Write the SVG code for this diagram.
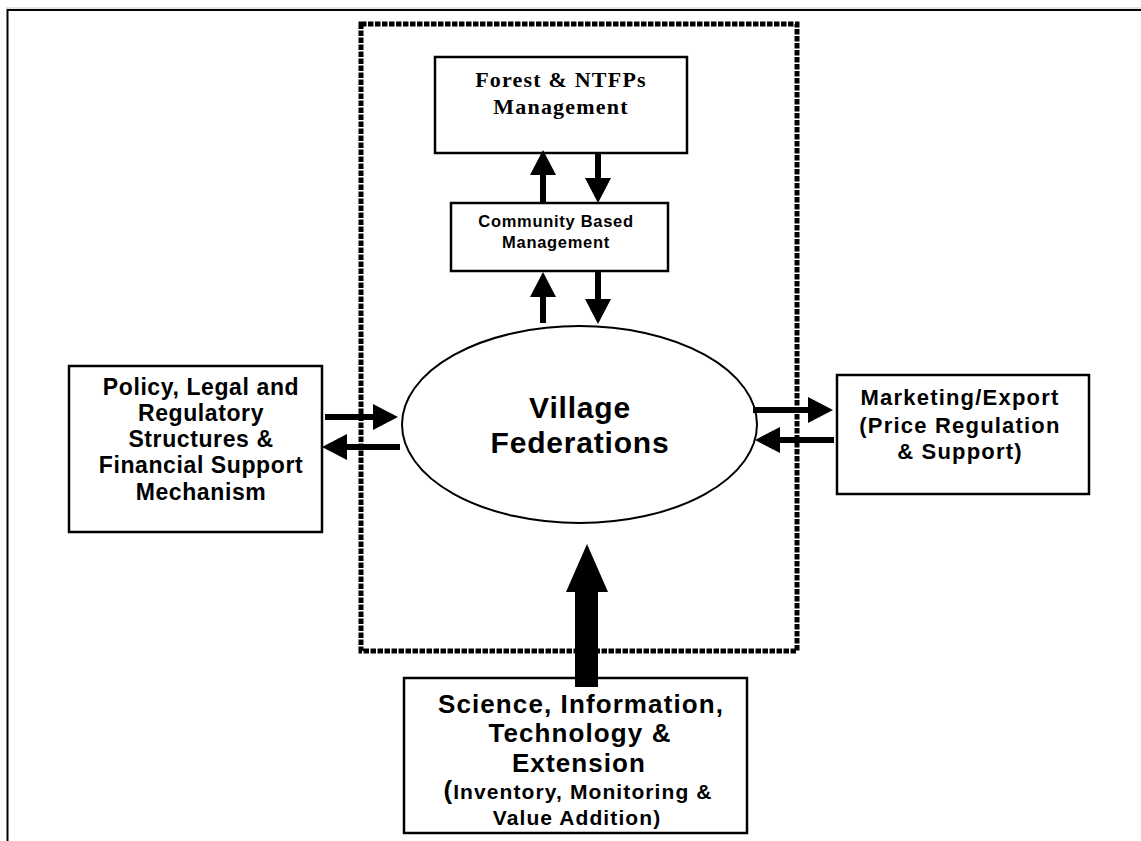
<svg xmlns="http://www.w3.org/2000/svg" width="1141" height="841" viewBox="0 0 1141 841">
  <style>
    .box { fill: #fff; stroke: #000; stroke-width: 2.5; }
    .oval { fill: #fff; stroke: #000; stroke-width: 2; }
    .sans { font-family: "Liberation Sans", Arial, sans-serif; font-weight: bold; fill: #000; text-anchor: middle; }
    .serif { font-family: "Liberation Serif", "Times New Roman", serif; font-weight: bold; fill: #000; text-anchor: middle; }
    .arrow { stroke: #000; stroke-width: 6; fill: none; marker-end: url(#head); }
    .frame { stroke: #000; stroke-width: 2; fill: none; }
  </style>
  <defs>
    <marker id="head" markerUnits="userSpaceOnUse" markerWidth="26" markerHeight="26" refX="15" refY="13" orient="auto">
      <path d="M0,0 L25,13 L0,26 Z" fill="#000"/>
    </marker>
  </defs>

  <rect width="1141" height="841" fill="#fff"/>

  <!-- page frame: top and left rules -->
  <line x1="6" y1="8" x2="1141" y2="8" stroke="#c8c8c8" stroke-width="1"/>
  <path class="frame" d="M7.5,841 V10 H1141"/>

  <!-- dotted boundary around the village system -->
  <rect id="boundary" x="361" y="24" width="436" height="627" fill="none" stroke="#000" stroke-width="5" stroke-dasharray="5.5 1.5"/>

  <g id="forest">
    <rect class="box" x="435" y="57" width="252" height="96"/>
    <text class="serif" font-size="22" letter-spacing="1.2" x="561" y="87">Forest &amp; NTFPs</text>
    <text class="serif" font-size="22" letter-spacing="1.2" x="561" y="114">Management</text>
  </g>

  <g id="community">
    <rect class="box" x="451" y="203" width="217" height="68"/>
    <text class="sans" font-size="16.5" letter-spacing="0.7" x="556" y="227">Community Based</text>
    <text class="sans" font-size="16.5" letter-spacing="0.7" x="556" y="248">Management</text>
  </g>

  <g id="village">
    <ellipse class="oval" cx="579.5" cy="424.5" rx="177.5" ry="98.5"/>
    <text class="sans" font-size="30" letter-spacing="0.8" x="580" y="418">Village</text>
    <text class="sans" font-size="30" letter-spacing="0.8" x="580" y="453">Federations</text>
  </g>

  <g id="policy">
    <rect class="box" x="69" y="366" width="253" height="166"/>
    <text class="sans" font-size="23" letter-spacing="0.6" x="201" y="395">Policy, Legal and</text>
    <text class="sans" font-size="23" letter-spacing="0.6" x="201" y="421">Regulatory</text>
    <text class="sans" font-size="23" letter-spacing="0.6" x="201" y="447">Structures &amp;</text>
    <text class="sans" font-size="23" letter-spacing="0.6" x="201" y="473">Financial Support</text>
    <text class="sans" font-size="23" letter-spacing="0.6" x="201" y="500">Mechanism</text>
  </g>

  <g id="marketing">
    <rect class="box" x="837" y="375" width="252" height="119"/>
    <text class="sans" font-size="22" letter-spacing="1.2" x="960" y="405">Marketing/Export</text>
    <text class="sans" font-size="22" letter-spacing="1.2" x="960" y="433">(Price Regulation</text>
    <text class="sans" font-size="22" letter-spacing="1.2" x="960" y="459">&amp; Support)</text>
  </g>

  <g id="science">
    <rect class="box" x="404" y="678" width="343" height="155"/>
    <text class="sans" font-size="26" letter-spacing="1.1" x="581" y="713">Science, Information,</text>
    <text class="sans" font-size="26" letter-spacing="1.1" x="580" y="742">Technology &amp;</text>
    <text class="sans" font-size="26" letter-spacing="1.1" x="579" y="772">Extension</text>
    <text class="sans" font-size="21" letter-spacing="1.1" x="578" y="799"><tspan font-size="26">(</tspan>Inventory, Monitoring &amp;</text>
    <text class="sans" font-size="21" letter-spacing="1.1" x="577" y="825">Value Addition)</text>
  </g>

  <g id="connectors">
    <!-- forest <-> community -->
    <line class="arrow" x1="543" y1="202" x2="543" y2="160"/>
    <line class="arrow" x1="598" y1="153" x2="598" y2="193"/>
    <!-- community <-> village -->
    <line class="arrow" x1="543" y1="323" x2="543" y2="282"/>
    <line class="arrow" x1="598" y1="271" x2="598" y2="314"/>
    <!-- policy <-> village -->
    <line class="arrow" x1="325" y1="417" x2="388" y2="417"/>
    <line class="arrow" x1="400" y1="447" x2="332" y2="447"/>
    <!-- village <-> marketing -->
    <line class="arrow" x1="753" y1="410" x2="823" y2="410"/>
    <line class="arrow" x1="834" y1="440" x2="765" y2="440"/>
    <!-- science -> village (block arrow) -->
    <path d="M575,687 L575,592 L566,592 L587,544 L608,592 L598,592 L598,687 Z" fill="#000"/>
  </g>
</svg>
